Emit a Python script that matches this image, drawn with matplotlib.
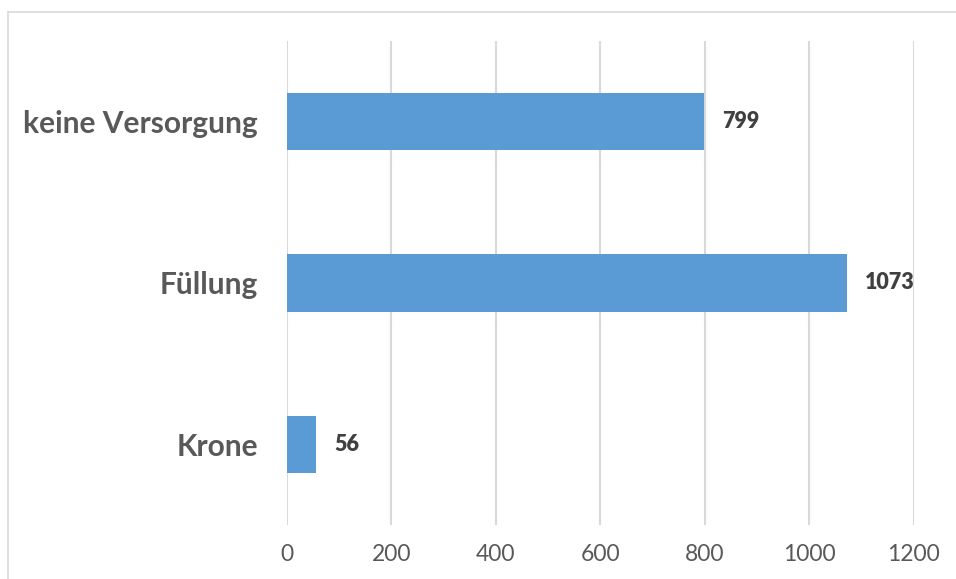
"""
Horizontal bar chart of restoration types
"""

import matplotlib
matplotlib.use("Agg")
import matplotlib.pyplot as plt
from matplotlib.lines import Line2D

# data
categories = ["Krone", "Füllung", "keine Versorgung"]
counts = [56, 1073, 799]
xticks = [0, 200, 400, 600, 800, 1000, 1200]

bar_color = "#5B9BD5"
grid_color = "#D9D9D9"
label_color = "#595959"
value_color = "#404040"

plt.rcParams["font.family"] = ["Lato", "DejaVu Sans"]

fig = plt.figure(figsize=(9.56, 5.79), dpi=100)
ax = fig.add_axes([0.3002, 0.0933, 0.6557, 0.8359])

pos = range(len(categories))
bars = ax.barh(pos, counts, height=0.355, color=bar_color, zorder=3)

# value labels right of each bar
for b, v in zip(bars, counts):
    ax.text(b.get_width() + 34, b.get_y() + b.get_height() / 2, str(v),
            va="center", ha="left", fontsize=15.5, fontweight="heavy",
            color=value_color)

ax.set_xlim(0, 1200)
ax.set_ylim(-0.5, len(categories) - 0.5)
ax.set_xticks(xticks)
ax.set_xticklabels([str(t) for t in xticks], fontsize=16.5, color=label_color)
ax.set_yticks(list(pos))
ax.set_yticklabels(categories, fontsize=21.5, fontweight="bold", color=label_color)

ax.tick_params(axis="both", length=0)
ax.tick_params(axis="x", pad=14)
ax.tick_params(axis="y", pad=21)
ax.xaxis.grid(True, color=grid_color, linewidth=1.5, zorder=0)
ax.yaxis.grid(False)
for s in ax.spines.values():
    s.set_visible(False)

# chart area frame (top and left edges visible)
fig.add_artist(Line2D([7.5 / 956, 1.0], [1 - 12 / 579, 1 - 12 / 579],
                      transform=fig.transFigure, color=grid_color, lw=1.2))
fig.add_artist(Line2D([7.5 / 956, 7.5 / 956], [0.0, 1 - 12 / 579],
                      transform=fig.transFigure, color=grid_color, lw=1.2))

plt.savefig("out.png", dpi=100)
